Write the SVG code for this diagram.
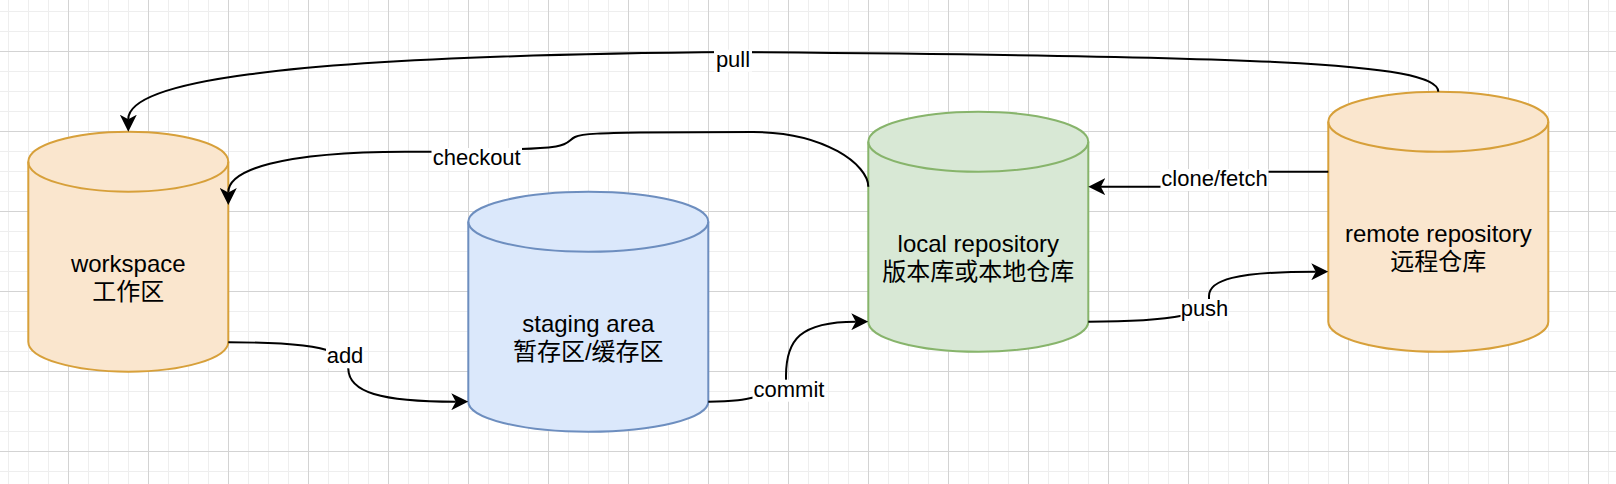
<svg xmlns="http://www.w3.org/2000/svg" width="1616" height="484" viewBox="0 0 1616 484">
<defs>
<pattern id="grid" patternUnits="userSpaceOnUse" x="68" y="51" width="80" height="80">
<path d="M20.5,0V80M40.5,0V80M60.5,0V80M0,20.5H80M0,40.5H80M0,60.5H80" stroke="#eeeeee" stroke-width="1" fill="none"/>
<path d="M0.5,0V80M0,0.5H80" stroke="#d3d3d3" stroke-width="1" fill="none"/>
</pattern>
<marker id="arrow" viewBox="0 0 17 17" refX="4.5" refY="8.5" markerWidth="17" markerHeight="17" markerUnits="userSpaceOnUse" orient="auto"><path d="M0,0 L17,8.5 L0,17 L4.5,8.5 Z" fill="#000"/></marker>
</defs>
<style>
.cyl{stroke-width:2}
.orange{fill:#fae6ce;stroke:#d7a03a}
.blue{fill:#dbe8fb;stroke:#6d8ebf}
.green{fill:#d8e8d5;stroke:#87b46b}
.top{fill:none;stroke-width:2}
.edge{fill:none;stroke:#000;stroke-width:2}
.lbg{fill:#fff}
.elbl{font-family:"Liberation Sans","Noto Sans CJK SC",sans-serif;font-size:22px;text-anchor:middle;fill:#000}
.nlbl{font-family:"Liberation Sans","Noto Sans CJK SC",sans-serif;font-size:24px;text-anchor:middle;fill:#000}
</style>
<rect x="0" y="0" width="1616" height="484" fill="#fff"/>
<rect x="0" y="0" width="1616" height="484" fill="url(#grid)"/>

<g id="workspace">
<path class="cyl orange" d="M28.3,161.7 A100,30 0 0 1 228.3,161.7 L228.3,341.7 A100,30 0 0 1 28.3,341.7 Z"/>
<path class="top orange" style="fill:none" d="M28.3,161.7 A100,30 0 0 0 228.3,161.7"/>
<text class="nlbl" x="128.3" y="271.7">workspace</text>
<text class="nlbl" x="128.3" y="300.2">工作区</text>
</g>

<g id="staging">
<path class="cyl blue" d="M468.3,221.7 A120,30 0 0 1 708.3,221.7 L708.3,401.7 A120,30 0 0 1 468.3,401.7 Z"/>
<path class="top blue" style="fill:none" d="M468.3,221.7 A120,30 0 0 0 708.3,221.7"/>
<text class="nlbl" x="588.3" y="331.7">staging area</text>
<text class="nlbl" x="588.3" y="360.2">暂存区/缓存区</text>
</g>

<g id="local">
<path class="cyl green" d="M868.3,141.7 A110,30 0 0 1 1088.3,141.7 L1088.3,321.7 A110,30 0 0 1 868.3,321.7 Z"/>
<path class="top green" style="fill:none" d="M868.3,141.7 A110,30 0 0 0 1088.3,141.7"/>
<text class="nlbl" x="978.3" y="251.7">local repository</text>
<text class="nlbl" x="978.3" y="280.2">版本库或本地仓库</text>
</g>

<g id="remote">
<path class="cyl orange" d="M1328.3,121.7 A110,30 0 0 1 1548.3,121.7 L1548.3,321.7 A110,30 0 0 1 1328.3,321.7 Z"/>
<path class="top orange" style="fill:none" d="M1328.3,121.7 A110,30 0 0 0 1548.3,121.7"/>
<text class="nlbl" x="1438.3" y="241.7">remote repository</text>
<text class="nlbl" x="1438.3" y="270.2">远程仓库</text>
</g>

<g id="connectors">
<path class="edge" marker-end="url(#arrow)" d="M1438.3,91.7 C1438.3,62 1250,56 733,52 C250,56 128.3,85 128.3,119.2"/>
<path class="edge" marker-end="url(#arrow)" d="M868.3,186.7 C868.3,165 825,132 753,132 L640,132.5 C605,133 582,133.5 575,137 C569,140 569,144.5 556,146.5 C545,148 532,148.7 521,149 L476,151.7 L405,151.7 C280,152 228.3,170 228.3,192.5"/>
<path class="edge" marker-end="url(#arrow)" d="M228.3,342.3 C290,342.3 318,346 332,352 C344,357 348,362 348.3,369 C349,392 380,401.7 455.8,401.7"/>
<path class="edge" marker-end="url(#arrow)" d="M708.3,401.7 C735,401.7 745,399.5 756,397 L786,385 L786,376 C786,340 800,321.7 855.8,321.7"/>
<path class="edge" marker-end="url(#arrow)" d="M1328.3,171.7 L1268,171.7 C1230,171.7 1200,186.7 1160,186.7 L1100.8,186.7"/>
<path class="edge" marker-end="url(#arrow)" d="M1088.3,321.7 C1140,321.7 1165,319 1183,315.5 L1209,305 L1209,296 C1209,280 1235,271.7 1315.8,271.7"/>

<rect class="lbg" x="714" y="49.7" width="38" height="22"/>
<text class="elbl" x="733" y="66.7">pull</text>
<rect class="lbg" x="431.5" y="148" width="90.5" height="22"/>
<text class="elbl" x="476.7" y="165">checkout</text>
<rect class="lbg" x="326" y="346.3" width="38" height="22"/>
<text class="elbl" x="345" y="363.3">add</text>
<rect class="lbg" x="752.5" y="379.7" width="73" height="22"/>
<text class="elbl" x="789" y="396.7">commit</text>
<rect class="lbg" x="1160.5" y="169" width="108" height="22"/>
<text class="elbl" x="1214.5" y="186">clone/fetch</text>
<rect class="lbg" x="1180.5" y="299" width="48" height="22"/>
<text class="elbl" x="1204.5" y="316">push</text>
</g>
</svg>
